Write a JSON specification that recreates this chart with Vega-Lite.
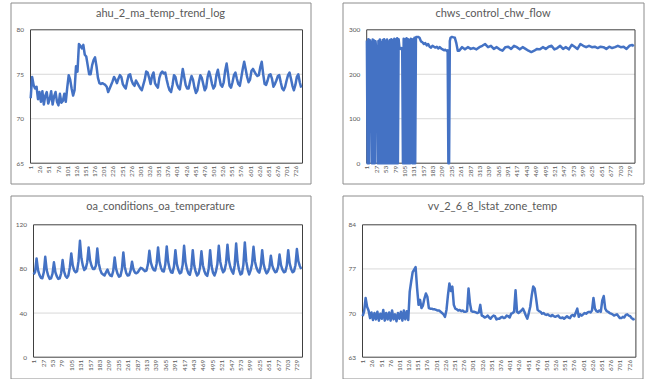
{
 "$schema": "https://vega.github.io/schema/vega-lite/v6.json",
 "padding": {"left": 9.5, "top": 1.5, "right": 0, "bottom": 0},
 "background": "white",
 "config": {
  "view": {"stroke": "#8c8c8c", "strokeWidth": 1},
  "axis": {"labelFont": "Lato", "labelColor": "#595959", "labelFontSize": 6.5, "ticks": false, "domain": false, "grid": false, "labelOverlap": false, "labelFlush": false},
  "axisX": {"labelAngle": 270, "labelPadding": 2, "labelBound": false},
  "axisY": {"labelPadding": 7},
  "title": {"font": "Lato", "fontSize": 11, "fontWeight": "normal", "color": "#595959", "anchor": "middle", "frame": "group", "offset": -16, "baseline": "middle"},
  "line": {"color": "#4472C4", "strokeWidth": 2.5, "strokeJoin": "round"}
 },
 "spacing": 10,
 "vconcat": [
  {"spacing": 30, "hconcat": [
   {"width": 300, "height": 181, "title": "ahu_2_ma_temp_trend_log",
    "resolve": {"axis": {"x": "independent", "y": "independent"}},
    "layer": [
     {"data": {"values": [{}]}, "mark": {"type": "rule", "color": "#d9d9d9", "strokeWidth": 1},
      "encoding": {"x": {"datum": 0.5, "type": "quantitative", "scale": {"domain": [0.5, 744.5], "range": [20, 292], "nice": false, "zero": false}, "axis": null}, "x2": {"datum": 744.5},
       "y": {"datum": 70, "type": "quantitative", "scale": {"domain": [65, 80], "range": [160.7, 27.3], "nice": false, "zero": false}, "axis": null}}},
     {"data": {"values": [{}]}, "mark": {"type": "rule", "color": "#d9d9d9", "strokeWidth": 1},
      "encoding": {"x": {"datum": 0.5, "type": "quantitative", "scale": {"domain": [0.5, 744.5], "range": [20, 292], "nice": false, "zero": false}, "axis": null}, "x2": {"datum": 744.5},
       "y": {"datum": 75, "type": "quantitative", "scale": {"domain": [65, 80], "range": [160.7, 27.3], "nice": false, "zero": false}, "axis": null}}},
     {"data": {"values": [{}]}, "mark": {"type": "rect", "fillOpacity": 0, "stroke": "#404040", "strokeWidth": 1},
      "encoding": {"x": {"datum": 0.5, "type": "quantitative", "scale": {"domain": [0.5, 744.5], "range": [20, 292], "nice": false, "zero": false}, "axis": null}, "x2": {"datum": 744.5},
       "y": {"datum": 65, "type": "quantitative", "scale": {"domain": [65, 80], "range": [160.7, 27.3], "nice": false, "zero": false}, "axis": null}, "y2": {"datum": 80}}},
     {"data": {"name": "ma"}, "mark": "line",
      "encoding": {"x": {"field": "i", "type": "quantitative", "scale": {"domain": [0.5, 744.5], "range": [20, 292], "nice": false, "zero": false},
        "axis": {"title": null, "values": [1,26,51,76,101,126,151,176,201,226,251,276,301,326,351,376,401,426,451,476,501,526,551,576,601,626,651,676,701,726], "offset": -20.3, "labelOverlap": false}},
       "y": {"field": "v", "type": "quantitative", "scale": {"domain": [65, 80], "range": [160.7, 27.3], "nice": false, "zero": false},
        "axis": {"title": null, "values": [65, 70, 75, 80], "offset": -20, "labelOverlap": false}}}}
    ]},
   {"width": 301, "height": 181, "title": "chws_control_chw_flow",
    "resolve": {"axis": {"x": "independent", "y": "independent"}},
    "layer": [
     {"data": {"values": [{}]}, "mark": {"type": "rule", "color": "#d9d9d9", "strokeWidth": 1},
      "encoding": {"x": {"datum": 0.5, "type": "quantitative", "scale": {"domain": [0.5, 744.5], "range": [24.2, 292.5], "nice": false, "zero": false}, "axis": null}, "x2": {"datum": 744.5},
       "y": {"datum": 100, "type": "quantitative", "scale": {"domain": [0, 300], "range": [160.7, 27.3], "nice": false, "zero": false}, "axis": null}}},
     {"data": {"values": [{}]}, "mark": {"type": "rule", "color": "#d9d9d9", "strokeWidth": 1},
      "encoding": {"x": {"datum": 0.5, "type": "quantitative", "scale": {"domain": [0.5, 744.5], "range": [24.2, 292.5], "nice": false, "zero": false}, "axis": null}, "x2": {"datum": 744.5},
       "y": {"datum": 200, "type": "quantitative", "scale": {"domain": [0, 300], "range": [160.7, 27.3], "nice": false, "zero": false}, "axis": null}}},
     {"data": {"values": [{}]}, "mark": {"type": "rect", "fillOpacity": 0, "stroke": "#404040", "strokeWidth": 1},
      "encoding": {"x": {"datum": 0.5, "type": "quantitative", "scale": {"domain": [0.5, 744.5], "range": [24.2, 292.5], "nice": false, "zero": false}, "axis": null}, "x2": {"datum": 744.5},
       "y": {"datum": 0, "type": "quantitative", "scale": {"domain": [0, 300], "range": [160.7, 27.3], "nice": false, "zero": false}, "axis": null}, "y2": {"datum": 300}}},
     {"data": {"name": "chw"}, "mark": "line",
      "encoding": {"x": {"field": "i", "type": "quantitative", "scale": {"domain": [0.5, 744.5], "range": [24.2, 292.5], "nice": false, "zero": false},
        "axis": {"title": null, "values": [1,27,53,79,105,131,157,183,209,235,261,287,313,339,365,391,417,443,469,495,521,547,573,599,625,651,677,703,729], "offset": -20.3, "labelOverlap": false}},
       "y": {"field": "v", "type": "quantitative", "scale": {"domain": [0, 300], "range": [160.7, 27.3], "nice": false, "zero": false},
        "axis": {"title": null, "values": [0, 100, 200, 300], "offset": -24.2, "labelOverlap": false}}}}
    ]}
  ]},
  {"spacing": 30, "hconcat": [
   {"width": 300, "height": 183, "title": "oa_conditions_oa_temperature",
    "resolve": {"axis": {"x": "independent", "y": "independent"}},
    "layer": [
     {"data": {"values": [{}]}, "mark": {"type": "rule", "color": "#d9d9d9", "strokeWidth": 1},
      "encoding": {"x": {"datum": 0.5, "type": "quantitative", "scale": {"domain": [0.5, 744.5], "range": [23, 292], "nice": false, "zero": false}, "axis": null}, "x2": {"datum": 744.5},
       "y": {"datum": 40, "type": "quantitative", "scale": {"domain": [0, 120], "range": [161.7, 29.3], "nice": false, "zero": false}, "axis": null}}},
     {"data": {"values": [{}]}, "mark": {"type": "rule", "color": "#d9d9d9", "strokeWidth": 1},
      "encoding": {"x": {"datum": 0.5, "type": "quantitative", "scale": {"domain": [0.5, 744.5], "range": [23, 292], "nice": false, "zero": false}, "axis": null}, "x2": {"datum": 744.5},
       "y": {"datum": 80, "type": "quantitative", "scale": {"domain": [0, 120], "range": [161.7, 29.3], "nice": false, "zero": false}, "axis": null}}},
     {"data": {"values": [{}]}, "mark": {"type": "rect", "fillOpacity": 0, "stroke": "#404040", "strokeWidth": 1},
      "encoding": {"x": {"datum": 0.5, "type": "quantitative", "scale": {"domain": [0.5, 744.5], "range": [23, 292], "nice": false, "zero": false}, "axis": null}, "x2": {"datum": 744.5},
       "y": {"datum": 0, "type": "quantitative", "scale": {"domain": [0, 120], "range": [161.7, 29.3], "nice": false, "zero": false}, "axis": null}, "y2": {"datum": 120}}},
     {"data": {"name": "oa"}, "mark": "line",
      "encoding": {"x": {"field": "i", "type": "quantitative", "scale": {"domain": [0.5, 744.5], "range": [23, 292], "nice": false, "zero": false},
        "axis": {"title": null, "values": [1,27,53,79,105,131,157,183,209,235,261,287,313,339,365,391,417,443,469,495,521,547,573,599,625,651,677,703,729], "offset": -21.3, "labelOverlap": false}},
       "y": {"field": "v", "type": "quantitative", "scale": {"domain": [0, 120], "range": [161.7, 29.3], "nice": false, "zero": false},
        "axis": {"title": null, "values": [0, 40, 80, 120], "offset": -23, "labelOverlap": false}}}}
    ]},
   {"width": 300, "height": 183, "title": "vv_2_6_8_lstat_zone_temp",
    "resolve": {"axis": {"x": "independent", "y": "independent"}},
    "layer": [
     {"data": {"values": [{}]}, "mark": {"type": "rule", "color": "#d9d9d9", "strokeWidth": 1},
      "encoding": {"x": {"datum": 0.5, "type": "quantitative", "scale": {"domain": [0.5, 744.5], "range": [20, 293.4], "nice": false, "zero": false}, "axis": null}, "x2": {"datum": 744.5},
       "y": {"datum": 70, "type": "quantitative", "scale": {"domain": [63, 84], "range": [161.7, 29.3], "nice": false, "zero": false}, "axis": null}}},
     {"data": {"values": [{}]}, "mark": {"type": "rule", "color": "#d9d9d9", "strokeWidth": 1},
      "encoding": {"x": {"datum": 0.5, "type": "quantitative", "scale": {"domain": [0.5, 744.5], "range": [20, 293.4], "nice": false, "zero": false}, "axis": null}, "x2": {"datum": 744.5},
       "y": {"datum": 77, "type": "quantitative", "scale": {"domain": [63, 84], "range": [161.7, 29.3], "nice": false, "zero": false}, "axis": null}}},
     {"data": {"values": [{}]}, "mark": {"type": "rect", "fillOpacity": 0, "stroke": "#404040", "strokeWidth": 1},
      "encoding": {"x": {"datum": 0.5, "type": "quantitative", "scale": {"domain": [0.5, 744.5], "range": [20, 293.4], "nice": false, "zero": false}, "axis": null}, "x2": {"datum": 744.5},
       "y": {"datum": 63, "type": "quantitative", "scale": {"domain": [63, 84], "range": [161.7, 29.3], "nice": false, "zero": false}, "axis": null}, "y2": {"datum": 84}}},
     {"data": {"name": "zt"}, "mark": "line",
      "encoding": {"x": {"field": "i", "type": "quantitative", "scale": {"domain": [0.5, 744.5], "range": [20, 293.4], "nice": false, "zero": false},
        "axis": {"title": null, "values": [1,26,51,76,101,126,151,176,201,226,251,276,301,326,351,376,401,426,451,476,501,526,551,576,601,626,651,676,701,726], "offset": -21.3, "labelOverlap": false}},
       "y": {"field": "v", "type": "quantitative", "scale": {"domain": [63, 84], "range": [161.7, 29.3], "nice": false, "zero": false},
        "axis": {"title": null, "values": [63, 70, 77, 84], "offset": -20, "labelOverlap": false}}}}
    ]}
  ]}
 ],
 "datasets": {
  "ma": [
   {"i":1,"v":72.3},{"i":5,"v":74.7},{"i":9,"v":73.8},{"i":13,"v":73.4},{"i":17,"v":73.6},{"i":21,"v":72.2},{"i":25,"v":73.0},{"i":29,"v":71.9},{"i":33,"v":73.1},{"i":37,"v":71.6},{"i":41,"v":72.6},{"i":45,"v":73.0},{"i":49,"v":71.7},{"i":53,"v":72.2},{"i":57,"v":73.1},{"i":61,"v":71.6},{"i":65,"v":72.5},{"i":69,"v":73.0},{"i":73,"v":71.9},{"i":77,"v":71.5},{"i":81,"v":72.8},{"i":85,"v":71.8},{"i":89,"v":72.0},{"i":93,"v":72.8},{"i":97,"v":71.9},{"i":101,"v":73.5},{"i":105,"v":74.9},{"i":109,"v":74.4},{"i":113,"v":73.4},{"i":117,"v":72.6},{"i":121,"v":73.2},{"i":125,"v":75.9},{"i":129,"v":75.3},{"i":133,"v":78.4},{"i":137,"v":78.2},{"i":141,"v":77.9},{"i":145,"v":78.3},{"i":149,"v":77.2},{"i":153,"v":77.0},{"i":157,"v":76.0},{"i":161,"v":75.0},{"i":165,"v":75.0},{"i":169,"v":76.0},{"i":173,"v":76.6},{"i":177,"v":76.9},{"i":181,"v":75.9},{"i":185,"v":74.6},{"i":189,"v":74.0},{"i":193,"v":73.9},{"i":197,"v":74.0},{"i":201,"v":73.9},{"i":205,"v":73.8},{"i":209,"v":73.6},{"i":213,"v":73.0},{"i":217,"v":73.4},{"i":221,"v":73.8},{"i":225,"v":74.2},{"i":229,"v":74.7},{"i":233,"v":74.4},{"i":237,"v":74.0},{"i":241,"v":74.5},{"i":245,"v":74.9},{"i":249,"v":74.7},{"i":253,"v":73.9},{"i":257,"v":73.6},{"i":261,"v":73.4},{"i":265,"v":74.2},{"i":269,"v":74.9},{"i":273,"v":75.0},{"i":277,"v":74.3},{"i":281,"v":73.9},{"i":285,"v":73.7},{"i":289,"v":74.3},{"i":293,"v":74.0},{"i":297,"v":73.7},{"i":301,"v":73.4},{"i":305,"v":73.2},{"i":309,"v":73.8},{"i":313,"v":74.4},{"i":317,"v":75.3},{"i":321,"v":75.2},{"i":325,"v":74.6},{"i":329,"v":73.9},{"i":333,"v":74.8},{"i":337,"v":75.2},{"i":341,"v":74.0},{"i":345,"v":73.7},{"i":349,"v":73.5},{"i":353,"v":74.6},{"i":357,"v":75.1},{"i":361,"v":75.3},{"i":365,"v":75.1},{"i":369,"v":75.2},{"i":373,"v":74.4},{"i":377,"v":73.7},{"i":381,"v":73.2},{"i":385,"v":73.0},{"i":389,"v":73.8},{"i":393,"v":74.9},{"i":397,"v":74.7},{"i":401,"v":73.9},{"i":405,"v":73.5},{"i":409,"v":73.3},{"i":413,"v":74.4},{"i":417,"v":75.6},{"i":421,"v":74.7},{"i":425,"v":73.8},{"i":429,"v":73.4},{"i":433,"v":73.4},{"i":437,"v":74.2},{"i":441,"v":74.8},{"i":445,"v":74.4},{"i":449,"v":73.5},{"i":453,"v":72.9},{"i":457,"v":73.2},{"i":461,"v":74.1},{"i":465,"v":74.9},{"i":469,"v":74.6},{"i":473,"v":73.9},{"i":477,"v":73.2},{"i":481,"v":73.5},{"i":485,"v":74.7},{"i":489,"v":75.3},{"i":493,"v":74.7},{"i":497,"v":73.9},{"i":501,"v":73.4},{"i":505,"v":73.7},{"i":509,"v":74.9},{"i":513,"v":75.5},{"i":517,"v":74.6},{"i":521,"v":73.8},{"i":525,"v":73.6},{"i":529,"v":74.1},{"i":533,"v":75.4},{"i":537,"v":76.2},{"i":541,"v":75.0},{"i":545,"v":73.7},{"i":549,"v":73.5},{"i":553,"v":74.1},{"i":557,"v":74.9},{"i":561,"v":75.2},{"i":565,"v":74.5},{"i":569,"v":73.9},{"i":573,"v":73.7},{"i":577,"v":74.6},{"i":581,"v":75.6},{"i":585,"v":76.4},{"i":589,"v":75.6},{"i":593,"v":74.7},{"i":597,"v":74.1},{"i":601,"v":74.4},{"i":605,"v":75.4},{"i":609,"v":75.6},{"i":613,"v":75.3},{"i":617,"v":75.0},{"i":621,"v":74.8},{"i":625,"v":74.9},{"i":629,"v":75.8},{"i":633,"v":76.4},{"i":637,"v":75.0},{"i":641,"v":73.9},{"i":645,"v":73.8},{"i":649,"v":74.3},{"i":653,"v":74.9},{"i":657,"v":75.0},{"i":661,"v":74.5},{"i":665,"v":73.6},{"i":669,"v":73.9},{"i":673,"v":74.3},{"i":677,"v":74.8},{"i":681,"v":74.9},{"i":685,"v":74.1},{"i":689,"v":73.4},{"i":693,"v":73.2},{"i":697,"v":73.6},{"i":701,"v":74.3},{"i":705,"v":74.9},{"i":709,"v":75.2},{"i":713,"v":74.5},{"i":717,"v":73.7},{"i":721,"v":73.2},{"i":725,"v":73.8},{"i":729,"v":74.7},{"i":733,"v":75.0},{"i":737,"v":74.1},{"i":741,"v":73.5}
  ],
  "chw": [
   {"i":1,"v":276},{"i":3,"v":0},{"i":5,"v":279},{"i":7,"v":0},{"i":9,"v":277},{"i":11,"v":272},{"i":13,"v":270},{"i":15,"v":0},{"i":17,"v":278},{"i":19,"v":0},{"i":21,"v":276},{"i":23,"v":0},{"i":25,"v":274},{"i":27,"v":255},{"i":29,"v":258},{"i":31,"v":0},{"i":33,"v":275},{"i":35,"v":0},{"i":37,"v":278},{"i":39,"v":0},{"i":41,"v":272},{"i":43,"v":0},{"i":45,"v":277},{"i":47,"v":0},{"i":49,"v":279},{"i":51,"v":0},{"i":53,"v":275},{"i":55,"v":0},{"i":57,"v":278},{"i":59,"v":0},{"i":61,"v":273},{"i":63,"v":0},{"i":65,"v":277},{"i":67,"v":0},{"i":69,"v":279},{"i":71,"v":0},{"i":73,"v":276},{"i":75,"v":0},{"i":77,"v":280},{"i":79,"v":0},{"i":81,"v":278},{"i":83,"v":0},{"i":85,"v":281},{"i":87,"v":0},{"i":89,"v":279},{"i":91,"v":262},{"i":93,"v":258},{"i":95,"v":257},{"i":97,"v":259},{"i":99,"v":257},{"i":101,"v":0},{"i":103,"v":280},{"i":105,"v":0},{"i":107,"v":278},{"i":109,"v":0},{"i":111,"v":281},{"i":113,"v":0},{"i":115,"v":279},{"i":117,"v":0},{"i":119,"v":277},{"i":121,"v":0},{"i":123,"v":280},{"i":125,"v":276},{"i":127,"v":0},{"i":129,"v":279},{"i":131,"v":0},{"i":133,"v":282},{"i":135,"v":0},{"i":137,"v":283},{"i":139,"v":284},
   {"i":143,"v":284},{"i":147,"v":282},{"i":151,"v":274},{"i":155,"v":272},{"i":159,"v":268},{"i":163,"v":270},{"i":167,"v":265},{"i":171,"v":268},{"i":175,"v":262},{"i":179,"v":260},{"i":183,"v":264},{"i":187,"v":262},{"i":191,"v":260},{"i":195,"v":262},{"i":199,"v":258},{"i":203,"v":261},{"i":207,"v":258},{"i":211,"v":256},{"i":215,"v":254},{"i":219,"v":255},{"i":223,"v":252},{"i":225,"v":254},{"i":227,"v":0},{"i":229,"v":0},{"i":231,"v":275},{"i":233,"v":282},{"i":237,"v":284},{"i":241,"v":283},{"i":245,"v":282},{"i":249,"v":270},{"i":253,"v":253},
   {"i":257,"v":253},{"i":265,"v":261},{"i":273,"v":256},{"i":281,"v":261},{"i":289,"v":257},{"i":297,"v":259},{"i":305,"v":256},{"i":313,"v":261},{"i":321,"v":264},{"i":329,"v":268},{"i":337,"v":261},{"i":345,"v":264},{"i":353,"v":257},{"i":361,"v":261},{"i":369,"v":256},{"i":377,"v":253},{"i":385,"v":261},{"i":393,"v":262},{"i":401,"v":257},{"i":409,"v":264},{"i":417,"v":261},{"i":425,"v":256},{"i":433,"v":261},{"i":441,"v":257},{"i":449,"v":253},{"i":457,"v":250},{"i":465,"v":253},{"i":473,"v":257},{"i":481,"v":256},{"i":489,"v":261},{"i":497,"v":257},{"i":505,"v":262},{"i":513,"v":264},{"i":521,"v":256},{"i":529,"v":259},{"i":537,"v":264},{"i":545,"v":257},{"i":553,"v":261},{"i":561,"v":256},{"i":569,"v":266},{"i":577,"v":262},{"i":585,"v":257},{"i":593,"v":268},{"i":601,"v":264},{"i":609,"v":261},{"i":617,"v":264},{"i":625,"v":261},{"i":633,"v":262},{"i":641,"v":259},{"i":649,"v":262},{"i":657,"v":261},{"i":665,"v":257},{"i":673,"v":262},{"i":681,"v":259},{"i":689,"v":261},{"i":697,"v":264},{"i":705,"v":261},{"i":713,"v":262},{"i":721,"v":257},{"i":729,"v":264},{"i":737,"v":266},{"i":741,"v":263}
  ],
  "oa": [
   {"i":1,"v":75},{"i":5,"v":77.3},{"i":9,"v":89.5},{"i":13,"v":79},{"i":17,"v":74.6},{"i":21,"v":72},
   {"i":25,"v":71.6},{"i":29,"v":77},{"i":33,"v":91},{"i":37,"v":79},{"i":41,"v":74},{"i":45,"v":71},
   {"i":49,"v":71.5},{"i":53,"v":75.5},{"i":57,"v":86},{"i":61,"v":77},{"i":65,"v":73.3},{"i":69,"v":71},
   {"i":73,"v":71.5},{"i":77,"v":76.1},{"i":81,"v":88},{"i":85,"v":77.8},{"i":89,"v":73.6},{"i":93,"v":72},
   {"i":97,"v":74},{"i":101,"v":81.4},{"i":105,"v":94},{"i":109,"v":83.2},{"i":113,"v":78.7},{"i":117,"v":77},
   {"i":121,"v":78},{"i":125,"v":87},{"i":129,"v":105.5},{"i":133,"v":89.6},{"i":137,"v":83},{"i":141,"v":79},
   {"i":145,"v":80.5},{"i":149,"v":85.9},{"i":153,"v":99.5},{"i":157,"v":87.8},{"i":161,"v":82.9},{"i":165,"v":80},
   {"i":169,"v":80},{"i":173,"v":82.8},{"i":177,"v":98.5},{"i":181,"v":85},{"i":185,"v":79.4},{"i":189,"v":76},
   {"i":193,"v":75},{"i":197,"v":74},{"i":201,"v":77},{"i":205,"v":79.5},{"i":209,"v":76},{"i":213,"v":74},
   {"i":217,"v":73.5},{"i":221,"v":78.2},{"i":225,"v":90.4},{"i":229,"v":80},{"i":233,"v":75.6},{"i":237,"v":73},
   {"i":241,"v":73.7},{"i":245,"v":79.6},{"i":249,"v":95},{"i":253,"v":81.8},{"i":257,"v":76.3},{"i":261,"v":74},
   {"i":265,"v":74.5},{"i":269,"v":78.5},{"i":273,"v":86.5},{"i":277,"v":79.6},{"i":281,"v":76.7},{"i":285,"v":76},
   {"i":289,"v":77},{"i":293,"v":79},{"i":297,"v":81},{"i":301,"v":80.5},{"i":305,"v":79},{"i":309,"v":78},
   {"i":313,"v":78.5},{"i":317,"v":84.2},{"i":321,"v":96.4},{"i":325,"v":86},{"i":329,"v":81.6},{"i":333,"v":79},
   {"i":337,"v":78.6},{"i":341,"v":84.5},{"i":345,"v":99.5},{"i":349,"v":86.6},{"i":353,"v":81.2},{"i":357,"v":78},
   {"i":361,"v":77.7},{"i":365,"v":84},{"i":369,"v":100.4},{"i":373,"v":86.4},{"i":377,"v":80.5},{"i":381,"v":77},
   {"i":385,"v":76.6},{"i":389,"v":82.3},{"i":393,"v":97},{"i":397,"v":84.4},{"i":401,"v":79.2},{"i":405,"v":76},
   {"i":409,"v":76.8},{"i":413,"v":83.5},{"i":417,"v":101},{"i":421,"v":86},{"i":425,"v":79.8},{"i":429,"v":76},
   {"i":433,"v":74.7},{"i":437,"v":80.9},{"i":441,"v":97},{"i":445,"v":83.2},{"i":449,"v":77.5},{"i":453,"v":74},
   {"i":457,"v":75.6},{"i":461,"v":81.3},{"i":465,"v":96},{"i":469,"v":83.4},{"i":473,"v":78.2},{"i":477,"v":75},
   {"i":481,"v":73.7},{"i":485,"v":80.2},{"i":489,"v":97},{"i":493,"v":82.6},{"i":497,"v":76.6},{"i":501,"v":74},
   {"i":505,"v":77.7},{"i":509,"v":84.2},{"i":513,"v":101},{"i":517,"v":86.6},{"i":521,"v":80.6},{"i":525,"v":77},
   {"i":529,"v":78.7},{"i":533,"v":85.2},{"i":537,"v":102},{"i":541,"v":87.6},{"i":545,"v":81.6},{"i":549,"v":78},
   {"i":553,"v":75.8},{"i":557,"v":83.4},{"i":561,"v":103},{"i":565,"v":86.2},{"i":569,"v":79.2},{"i":573,"v":75},
   {"i":577,"v":75.9},{"i":581,"v":83.7},{"i":585,"v":104},{"i":589,"v":86.6},{"i":593,"v":79.4},{"i":597,"v":75},
   {"i":601,"v":78.7},{"i":605,"v":84.6},{"i":609,"v":100},{"i":613,"v":86.8},{"i":617,"v":81.3},{"i":621,"v":78},
   {"i":625,"v":76.6},{"i":629,"v":82.3},{"i":633,"v":97},{"i":637,"v":84.4},{"i":641,"v":79.2},{"i":645,"v":76},
   {"i":649,"v":77.5},{"i":653,"v":81.5},{"i":657,"v":92},{"i":661,"v":83},{"i":665,"v":79.3},{"i":669,"v":77},
   {"i":673,"v":77.5},{"i":677,"v":81.8},{"i":681,"v":93},{"i":685,"v":83.4},{"i":689,"v":79.4},{"i":693,"v":77},
   {"i":697,"v":77.6},{"i":701,"v":83},{"i":705,"v":97},{"i":709,"v":85},{"i":713,"v":80},{"i":717,"v":77},
   {"i":721,"v":78},{"i":725,"v":83.4},{"i":729,"v":98},{"i":733,"v":87},{"i":737,"v":82.7},{"i":741,"v":80}
  ],
  "zt": [
   {"i":1,"v":69.5},{"i":5,"v":70.3},{"i":9,"v":72.4},{"i":13,"v":71.0},{"i":17,"v":70.4},{"i":21,"v":69.2},{"i":25,"v":70.1},{"i":29,"v":68.9},{"i":33,"v":70.0},{"i":37,"v":69.0},{"i":41,"v":70.2},{"i":45,"v":68.8},{"i":49,"v":69.9},{"i":53,"v":69.1},{"i":57,"v":70.5},{"i":61,"v":68.8},{"i":65,"v":70.0},{"i":69,"v":69.0},{"i":73,"v":70.1},{"i":77,"v":68.8},{"i":81,"v":70.4},{"i":85,"v":69.0},{"i":89,"v":69.8},{"i":93,"v":68.7},{"i":97,"v":70.0},{"i":101,"v":69.1},{"i":105,"v":70.2},{"i":109,"v":68.8},{"i":113,"v":70.4},{"i":117,"v":69.0},{"i":121,"v":70.3},{"i":125,"v":68.9},{"i":129,"v":73.4},{"i":133,"v":75.0},{"i":137,"v":76.5},{"i":141,"v":76.9},{"i":145,"v":77.3},{"i":149,"v":74.0},{"i":153,"v":71.3},{"i":157,"v":72.1},{"i":161,"v":70.8},{"i":165,"v":71.2},{"i":169,"v":72.3},{"i":173,"v":73.1},{"i":177,"v":72.6},{"i":181,"v":70.8},{"i":185,"v":70.7},{"i":189,"v":70.7},{"i":193,"v":70.6},{"i":197,"v":70.6},{"i":201,"v":70.5},{"i":205,"v":70.4},{"i":209,"v":70.4},{"i":213,"v":70.2},{"i":217,"v":70.0},{"i":221,"v":69.8},{"i":225,"v":69.4},{"i":229,"v":70.5},{"i":233,"v":72.8},{"i":237,"v":74.7},{"i":241,"v":73.5},{"i":245,"v":74.2},{"i":249,"v":71.3},{"i":253,"v":70.7},{"i":257,"v":70.6},{"i":261,"v":70.4},{"i":265,"v":70.5},{"i":269,"v":70.3},{"i":273,"v":70.4},{"i":277,"v":70.2},{"i":281,"v":70.2},{"i":285,"v":70.3},{"i":289,"v":73.9},{"i":293,"v":71.5},{"i":297,"v":70.3},{"i":301,"v":70.2},{"i":305,"v":70.2},{"i":309,"v":70.1},{"i":313,"v":70.0},{"i":317,"v":70.1},{"i":321,"v":71.3},{"i":325,"v":69.6},{"i":329,"v":69.5},{"i":333,"v":69.3},{"i":337,"v":69.4},{"i":341,"v":69.6},{"i":345,"v":69.3},{"i":349,"v":69.1},{"i":353,"v":69.4},{"i":357,"v":69.6},{"i":361,"v":69.5},{"i":365,"v":69.0},{"i":369,"v":69.1},{"i":373,"v":69.1},{"i":377,"v":69.3},{"i":381,"v":69.4},{"i":385,"v":69.2},{"i":389,"v":69.3},{"i":393,"v":69.6},{"i":397,"v":69.5},{"i":401,"v":69.3},{"i":405,"v":69.9},{"i":409,"v":70.0},{"i":413,"v":70.2},{"i":417,"v":73.6},{"i":421,"v":70.2},{"i":425,"v":70.0},{"i":429,"v":70.2},{"i":433,"v":70.4},{"i":437,"v":70.7},{"i":441,"v":70.2},{"i":445,"v":69.6},{"i":449,"v":69.1},{"i":453,"v":70.0},{"i":457,"v":71.0},{"i":461,"v":72.8},{"i":465,"v":74.2},{"i":469,"v":73.9},{"i":473,"v":72.3},{"i":477,"v":70.5},{"i":481,"v":70.3},{"i":485,"v":70.2},{"i":489,"v":69.9},{"i":493,"v":70.0},{"i":497,"v":69.8},{"i":501,"v":69.7},{"i":505,"v":69.8},{"i":509,"v":69.6},{"i":513,"v":69.5},{"i":517,"v":69.7},{"i":521,"v":69.5},{"i":525,"v":69.4},{"i":529,"v":69.5},{"i":533,"v":69.6},{"i":537,"v":69.3},{"i":541,"v":69.2},{"i":545,"v":69.3},{"i":549,"v":69.1},{"i":553,"v":69.3},{"i":557,"v":69.5},{"i":561,"v":69.3},{"i":565,"v":69.2},{"i":569,"v":69.6},{"i":573,"v":69.7},{"i":577,"v":69.5},{"i":581,"v":70.1},{"i":585,"v":70.7},{"i":589,"v":69.4},{"i":593,"v":69.8},{"i":597,"v":69.6},{"i":601,"v":69.8},{"i":605,"v":70.0},{"i":609,"v":69.9},{"i":613,"v":70.1},{"i":617,"v":70.2},{"i":621,"v":70.1},{"i":625,"v":70.4},{"i":629,"v":72.4},{"i":633,"v":70.7},{"i":637,"v":70.3},{"i":641,"v":70.2},{"i":645,"v":70.4},{"i":649,"v":70.2},{"i":653,"v":72.0},{"i":657,"v":72.7},{"i":661,"v":70.7},{"i":665,"v":70.3},{"i":669,"v":70.2},{"i":673,"v":70.0},{"i":677,"v":69.9},{"i":681,"v":69.8},{"i":685,"v":69.6},{"i":689,"v":69.7},{"i":693,"v":69.8},{"i":697,"v":69.5},{"i":701,"v":69.2},{"i":705,"v":69.2},{"i":709,"v":69.4},{"i":713,"v":69.3},{"i":717,"v":69.7},{"i":721,"v":69.8},{"i":725,"v":69.6},{"i":729,"v":69.5},{"i":733,"v":69.2},{"i":737,"v":69.0},{"i":741,"v":69.1}
  ]
 }
}
